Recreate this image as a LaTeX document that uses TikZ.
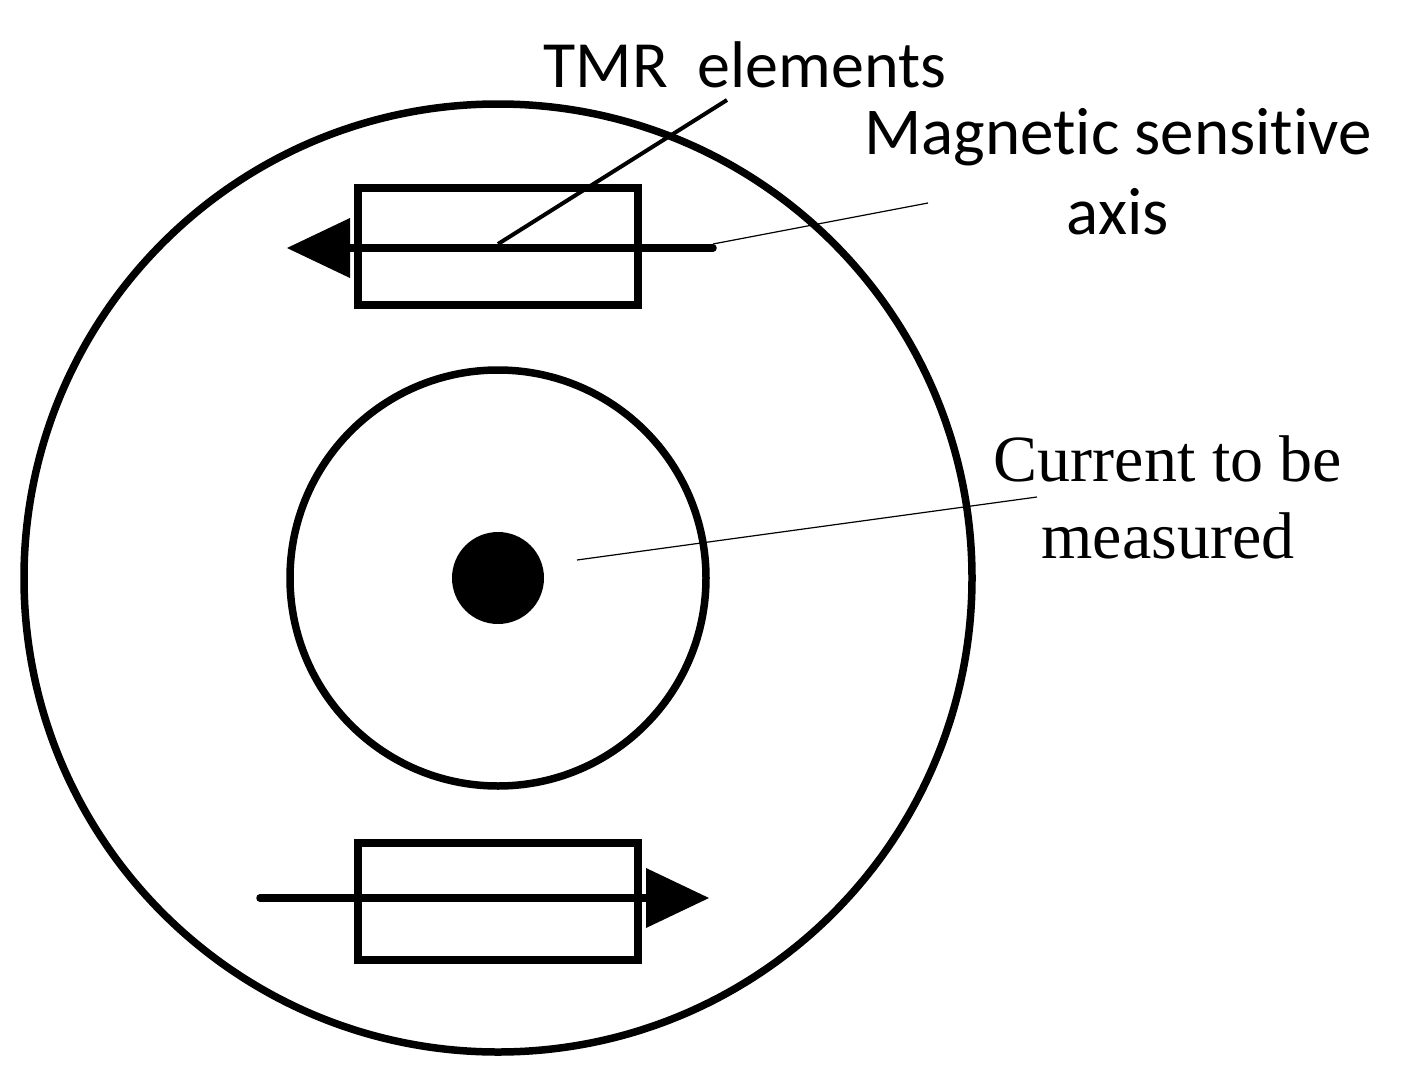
\documentclass[tikz,border=0pt]{standalone}
\usepackage{fontspec}
\setmainfont{Liberation Serif}
\newfontfamily\carlitofont[Ligatures=NoCommon]{Carlito}
\begin{document}
\begin{tikzpicture}[x=1pt,y=-1pt,
  thick/.style={line width=7.5pt},
  lead/.style={line width=1.2pt},
  lbl/.style={inner sep=0pt,align=center}]
\useasboundingbox (0,0) rectangle (1408,1081);
\node[circle,draw,thick,minimum size=948pt,inner sep=0pt] (outer) at (498,578) {};
\node[circle,draw,thick,minimum size=416pt,inner sep=0pt] (inner) at (498,578) {};
\node[circle,fill=black,minimum size=92pt,inner sep=0pt] (dot) at (498,578) {};
\node[draw,thick,minimum width=280pt,minimum height=117pt,inner sep=0pt] (r1) at (498,246.5) {};
\node[draw,thick,minimum width=280pt,minimum height=117pt,inner sep=0pt] (r2) at (498,901.5) {};
\coordinate (a1s) at (713,248); \coordinate (a1e) at (350,248);
\coordinate (a2s) at (260,898); \coordinate (a2e) at (646,898);
\draw[thick,line cap=round] (a1s) -- (a1e);
\fill (287,248) -- (350,218) -- (350,278) -- cycle;
\draw[thick,line cap=round] (a2s) -- (a2e);
\fill (709,898) -- (646,868) -- (646,928) -- cycle;
\node[lbl,font=\carlitofont\fontsize{66}{70}\selectfont] (tmr) at (745,65) {TMR\ \ elements};
\coordinate (t1) at (498,244); \coordinate (t2) at (727,100);
\draw[line width=4pt] (t1) -- (t2);
\node[lbl,font=\carlitofont\fontsize{67}{80}\selectfont] (mag) at (1118,172) {Magnetic sensitive\\axis};
\coordinate (m1) at (713,244); \coordinate (m2) at (928,203);
\draw[lead] (m1) -- (m2);
\node[lbl,font=\fontsize{66}{77}\selectfont] (cur) at (1168,497) {Current to be\\measured};
\coordinate (c1) at (577,560); \coordinate (c2) at (1037,497);
\draw[lead] (c1) -- (c2);
\end{tikzpicture}
\end{document}
